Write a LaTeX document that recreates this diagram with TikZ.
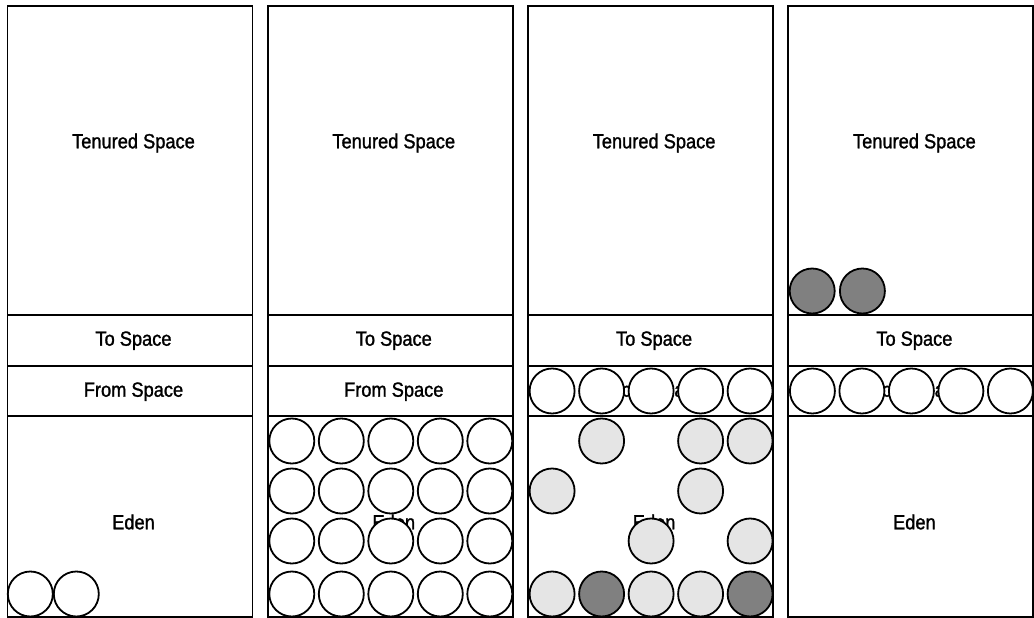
\documentclass[tikz,border=0pt]{standalone}
\usepackage{fontspec}
\setmainfont[FakeStretch=0.89,FakeBold=1.3]{Liberation Sans}

\begin{document}
\begin{tikzpicture}[x=1pt,y=-1pt,every node/.style={font=\fontsize{20.5}{24}\selectfont},
 gen/.style={draw,line width=1.9pt},
 split/.style={draw,line width=1.4pt},
 lbl/.style={anchor=base,inner sep=0pt},
 obj/.style={circle,draw,line width=1.8pt,fill=white,minimum size=45pt,inner sep=0pt},
 alive/.style={obj,fill=gray!20},
 aged/.style={obj,fill=gray}]
\useasboundingbox (0,0) rectangle (1034,618);
% four snapshots of the heap
\foreach \c in {0,...,3}{
 \pgfmathsetmacro\L{7.5+260.3*\c}
 \draw[split] (\L,315) -- +(245,0) (\L,366) -- +(245,0) (\L,416) -- +(245,0);
 \draw[gen] (\L,6) rectangle +(245,611);
 \node[lbl] (ten\c) at (\L+126,148.3) {Tenured Space};
 \node[lbl] (to\c) at (\L+126,345.7) {To Space};
 \node[lbl] (from\c) at (\L+126,396.7) {From Space};
 \node[lbl] (eden\c) at (\L+126,529.3) {Eden};
}
% 1: first objects in eden
\node[obj] (a1) at (30.3,594) {};
\node[obj] (a2) at (76.3,594) {};
% 2: eden full
\foreach \i in {0,...,4}
 \foreach \r/\y in {1/441,2/491,3/541,4/594}
  \node[obj] (b\i-\r) at (291.8+49.5*\i,\y) {};
% 3: survivors copied to from space
\foreach \i in {0,...,4}
 \node[obj] (cf\i) at (552.1+49.5*\i,391) {};
\foreach \i/\y in {1/441,3/441,4/441,0/491,3/491,2/541,4/541,0/594,2/594,3/594}
 \node[alive] (cl\i-\y) at (552.1+49.5*\i,\y) {};
\node[aged] (co1) at (601.6,594) {};
\node[aged] (co2) at (750.1,594) {};
% 4: old objects promoted
\foreach \i in {0,...,4}
 \node[obj] (df\i) at (812.4+49.5*\i,391) {};
\node[aged] (dt1) at (812.2,291) {};
\node[aged] (dt2) at (862.4,291) {};
\end{tikzpicture}
\end{document}
